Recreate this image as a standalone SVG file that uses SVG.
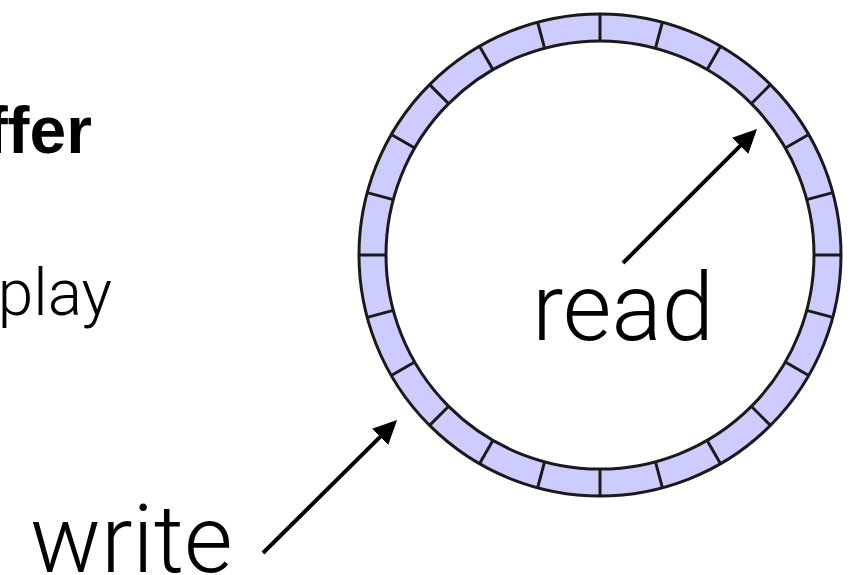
<svg xmlns="http://www.w3.org/2000/svg" width="850" height="575" viewBox="0 0 850 575">
<style>
.ring{fill:#ccccff;stroke:#1a1a1a;stroke-width:3;fill-rule:evenodd}
.div{stroke:#1a1a1a;stroke-width:3}
.arrow{stroke:#000;stroke-width:4;fill:none;marker-end:url(#head)}
.lbl{font-family:Roboto,"Liberation Sans",Arial,sans-serif;font-weight:300;fill:#000}
.title{font-family:"Liberation Sans",Arial,sans-serif;font-weight:bold;fill:#000}
</style>
<defs>
<marker id="head" markerUnits="userSpaceOnUse" viewBox="0 0 24 24" markerWidth="24" markerHeight="24" refX="4" refY="12" orient="auto">
<path d="M0,0.5 L24,12 L0,23.5 z" fill="#000"/>
</marker>
</defs>
<rect width="850" height="575" fill="#fff"/>
<g id="title"><text class="title" x="92" y="153" font-size="66" text-anchor="end">ffer</text></g>
<g id="subtitle"><text class="lbl" x="112" y="315" font-size="64" text-anchor="end">play</text></g>
<g id="ring-buffer">
<path class="ring" d="M359,255 A241,241 0 1,0 841,255 A241,241 0 1,0 359,255 Z M386,255 A214,214 0 1,0 814,255 A214,214 0 1,0 386,255 Z"/>
<g class="div">
<line x1="814" y1="255" x2="841" y2="255"/>
<line x1="806.7" y1="310.4" x2="832.8" y2="317.4"/>
<line x1="785.3" y1="362" x2="808.7" y2="375.5"/>
<line x1="751.3" y1="406.3" x2="770.4" y2="425.4"/>
<line x1="707" y1="440.3" x2="720.5" y2="463.7"/>
<line x1="655.4" y1="461.7" x2="662.4" y2="487.8"/>
<line x1="600" y1="469" x2="600" y2="496"/>
<line x1="544.6" y1="461.7" x2="537.6" y2="487.8"/>
<line x1="493" y1="440.3" x2="479.5" y2="463.7"/>
<line x1="448.7" y1="406.3" x2="429.6" y2="425.4"/>
<line x1="414.7" y1="362" x2="391.3" y2="375.5"/>
<line x1="393.3" y1="310.4" x2="367.2" y2="317.4"/>
<line x1="386" y1="255" x2="359" y2="255"/>
<line x1="393.3" y1="199.6" x2="367.2" y2="192.6"/>
<line x1="414.7" y1="148" x2="391.3" y2="134.5"/>
<line x1="448.7" y1="103.7" x2="429.6" y2="84.6"/>
<line x1="493" y1="69.7" x2="479.5" y2="46.3"/>
<line x1="544.6" y1="48.3" x2="537.6" y2="22.2"/>
<line x1="600" y1="41" x2="600" y2="14"/>
<line x1="655.4" y1="48.3" x2="662.4" y2="22.2"/>
<line x1="707" y1="69.7" x2="720.5" y2="46.3"/>
<line x1="751.3" y1="103.7" x2="770.4" y2="84.6"/>
<line x1="785.3" y1="148" x2="808.7" y2="134.5"/>
<line x1="806.7" y1="199.6" x2="832.8" y2="192.6"/>
</g>
</g>
<g id="read-label"><text class="lbl" x="532" y="340" font-size="94">read</text></g>
<g id="write-label"><text class="lbl" x="30" y="572" font-size="94">write</text></g>
<g id="connectors">
<line class="arrow" x1="623" y1="263" x2="742.9" y2="143.1"/>
<line class="arrow" x1="263" y1="553" x2="382.9" y2="434.1"/>
</g>
</svg>
